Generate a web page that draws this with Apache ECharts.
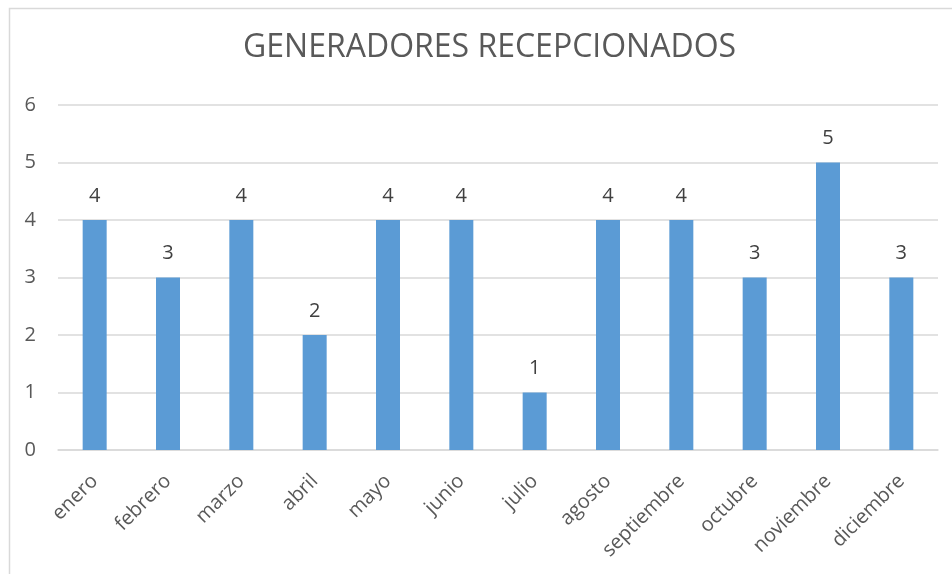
<!DOCTYPE html>
<html>
<head>
<meta charset="utf-8">
<script src="https://cdn.jsdelivr.net/npm/echarts@6/dist/echarts.min.js"></script>
<style>
  html, body { margin: 0; padding: 0; background: #fff; }
  #chart { width: 952px; height: 574px; }
</style>
</head>
<body>
<div id="chart"></div>
<script>
var meses = ['enero', 'febrero', 'marzo', 'abril', 'mayo', 'junio', 'julio',
             'agosto', 'septiembre', 'octubre', 'noviembre', 'diciembre'];
var generadores = [4, 3, 4, 2, 4, 4, 1, 4, 4, 3, 5, 3];
var titulo = 'GENERADORES RECEPCIONADOS';

var myChart = echarts.init(document.getElementById('chart'));

var option = {
    backgroundColor: '#fff',
    textStyle: { fontFamily: 'Open Sans, Noto Sans, sans-serif' },
    graphic: [
        {
            type: 'rect',
            left: 7, top: 6,
            shape: { width: 980, height: 620 },
            style: { fill: 'none', stroke: '#d9d9d9', lineWidth: 1.5 },
            silent: true
        }
    ],
    title: {
        text: titulo,
        left: 238,
        top: 27,
        textStyle: {
            color: '#595959',
            fontSize: 32,
            fontWeight: 'normal',
            fontFamily: 'Open Sans, Noto Sans, sans-serif'
        }
    },
    grid: {
        left: 58,
        right: 14,
        top: 105,
        bottom: 124
    },
    xAxis: {
        type: 'category',
        data: meses,
        axisTick: { show: false },
        axisLine: { lineStyle: { color: '#d9d9d9', width: 1.5 } },
        axisLabel: {
            rotate: 45,
            color: '#595959',
            fontSize: 20,
            margin: 28,
            interval: 0
        }
    },
    yAxis: {
        type: 'value',
        min: 0,
        max: 6,
        interval: 1,
        axisLine: { show: false },
        axisTick: { show: false },
        axisLabel: { color: '#595959', fontSize: 20, margin: 22 },
        splitLine: { lineStyle: { color: '#d9d9d9', width: 1.5 } }
    },
    series: [
        {
            type: 'bar',
            data: generadores,
            barWidth: 24,
            itemStyle: { color: '#5b9bd5' },
            label: {
                show: true,
                position: 'top',
                distance: 14,
                color: '#404040',
                fontSize: 20
            }
        }
    ]
};

myChart.setOption(option);
</script>
</body>
</html>
